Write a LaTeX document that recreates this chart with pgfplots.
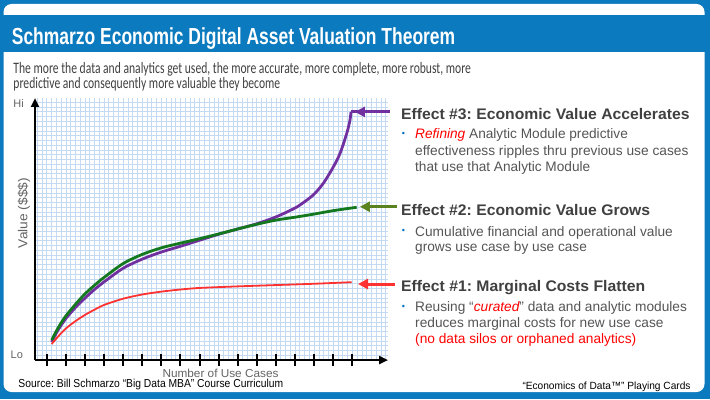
\documentclass[border=0pt]{standalone}
\usepackage{pgfplots}
\pgfplotsset{compat=1.18}
\usepackage{fontspec}
\setmainfont{Liberation Sans}
\newfontfamily\calib{Carlito}
\usetikzlibrary{arrows.meta}
\definecolor{frameblue}{RGB}{12,122,190}
\definecolor{gridblue}{RGB}{196,218,242}
\definecolor{headgray}{RGB}{64,64,64}
\definecolor{bodygray}{RGB}{85,85,85}
\definecolor{labgray}{RGB}{100,100,100}
\definecolor{cpurple}{RGB}{112,48,160}
\definecolor{cgreen}{RGB}{20,120,30}
\definecolor{cred}{RGB}{255,50,50}
\definecolor{aolive}{RGB}{90,130,30}
\definecolor{bulblue}{RGB}{0,112,192}
\newcommand{\fit}[2]{\resizebox{#1bp}{\height}{#2}}
\frenchspacing
\begin{document}
\begin{tikzpicture}[x=1bp,y=1bp]
\path[use as bounding box] (0,0) rectangle (710,399);
\fill[frameblue] (0,0) rectangle (710,399);
\fill[white, rounded corners=8bp] (3.5,7) rectangle (704.5,395);
\fill[frameblue] (0,347) rectangle (710,384);
% title
\node[anchor=base west, inner sep=0, text=white, font=\fontsize{23.3}{26}\selectfont\bfseries] at (11.7,354.7) {\fit{443.3}{Schmarzo Economic Digital Asset Valuation Theorem}};
\node[anchor=base west, inner sep=0, text=headgray, font=\fontsize{16}{19}\calib] at (13.3,325.5) {\fit{457.4}{The more the data and analytics get used, the more accurate, more complete, more robust, more}};
\node[anchor=base west, inner sep=0, text=headgray, font=\fontsize{16}{19}\calib] at (13.3,310.7) {\fit{266.7}{predictive and consequently more valuable they become}};

\begin{axis}[at={(35bp,39bp)}, anchor=south west, scale only axis, width=353bp, height=262bp,
 xmin=-0.613, xmax=17.87, ymin=0, ymax=100,
 axis lines=left,
 axis line style={line width=2.4bp, black, -{Triangle[length=9bp,width=8bp]}},
 xtick={-0.5,-0.25,...,17.8}, ytick={0,1.8225,...,99.5},
 grid=major, major grid style={gridblue, line width=0.6bp},
 major tick length=0pt, xticklabels={}, yticklabels={},
 extra x ticks={0,1,...,16}, extra x tick labels={},
 extra x tick style={grid=none, major tick length=12bp, tick align=center, tick style={black, line width=2bp}},
 clip=false]
\addplot[cpurple, line width=2.8bp, smooth] coordinates {
(0.26,6.9) (0.6,11.5) (1.0,15.8) (1.5,20.0) (2.0,23.6) (2.5,26.9) (3.0,29.8) (4.0,35.0) (5.0,38.5) (6.0,41.2) (7.0,43.4) (8.0,45.7) (9.0,48.0) (10.0,50.0) (11.0,52.0) (12.0,54.6) (13.0,58.0) (13.5,60.4) (14.0,63.3) (14.5,67.6) (15.0,73.6) (15.36,78.9) (15.71,86.5) (15.88,91.6) (15.93,94.7)};
\addplot[cgreen, line width=2.8bp, smooth] coordinates {
(0.26,7.6) (0.6,12.3) (1.0,16.8) (1.5,21.2) (2.0,25.2) (2.5,28.5) (3.0,31.5) (4.0,36.8) (5.0,40.3) (6.0,42.8) (7.0,44.6) (8.0,46.3) (9.0,48.1) (10.0,50.0) (11.0,51.8) (12.0,53.4) (13.0,54.5) (14.0,55.7) (15.0,57.0) (16.23,58.3)};
\addplot[cred, line width=1.8bp, smooth] coordinates {
(0.26,6.1) (0.6,9.0) (1.0,12.0) (1.5,14.8) (2.0,17.2) (2.5,19.2) (3.0,21.0) (4.0,23.4) (5.0,25.0) (6.0,26.1) (7.0,26.9) (8.0,27.5) (10.0,28.1) (12.0,28.6) (14.0,29.1) (15.97,29.7)};
\draw[cpurple, line width=2.8bp] (axis cs:15.93,94.7) -- (axis cs:16.3,94.7);
\draw[cpurple, line width=3bp, -{Triangle[length=10bp,width=10bp]}] (axis cs:17.97,94.7) -- (axis cs:16.14,94.7);
\draw[aolive, line width=3bp, -{Triangle[length=10bp,width=10bp]}] (axis cs:18.34,58.5) -- (axis cs:16.40,58.5);
\draw[cred, line width=3bp, -{Triangle[length=10bp,width=10bp]}] (axis cs:18.23,29.0) -- (axis cs:16.30,29.0);
\end{axis}

\node[anchor=base west, inner sep=0, text=labgray, font=\fontsize{11}{13}\selectfont] at (13.3,291.7) {Hi};
\node[anchor=base west, inner sep=0, text=labgray, font=\fontsize{11}{13}\selectfont] at (10.5,40.7) {Lo};
\node[anchor=base, rotate=90, inner sep=0, text=labgray, font=\fontsize{13}{15}\selectfont] at (27.3,186) {\fit{70}{Value (\$\$\$)}};
\node[anchor=base west, inner sep=0, text=labgray, font=\fontsize{11.6}{14}\selectfont] at (162.3,21.8) {\fit{116}{Number of Use Cases}};
\node[anchor=base west, inner sep=0, text=black, font=\fontsize{11.6}{14}\selectfont] at (18.3,11.3) {\fit{264.7}{Source: Bill Schmarzo “Big Data MBA” Course Curriculum}};
\node[anchor=base east, inner sep=0, text=black, font=\fontsize{10.5}{13}\selectfont] at (690.7,10) {\fit{168}{“Economics of Data™” Playing Cards}};

% right side texts
\node[anchor=base west, inner sep=0, text=headgray, font=\fontsize{15.4}{18}\selectfont\bfseries] at (401,279.7) {\fit{288.3}{Effect \#3: Economic Value Accelerates}};
\node[inner sep=0, text=bulblue, font=\fontsize{9}{10}\selectfont] at (403.5,264.5) {•};
\node[anchor=base west, inner sep=0, text=bodygray, font=\fontsize{13.8}{16}\selectfont] at (415,260.7) {\fit{212.7}{\textcolor{red}{\itshape Refining} Analytic Module predictive}};
\node[anchor=base west, inner sep=0, text=bodygray, font=\fontsize{13.8}{16}\selectfont] at (415,244) {\fit{273.3}{effectiveness ripples thru previous use cases}};
\node[anchor=base west, inner sep=0, text=bodygray, font=\fontsize{13.8}{16}\selectfont] at (415,228) {\fit{175}{that use that Analytic Module}};

\node[anchor=base west, inner sep=0, text=headgray, font=\fontsize{15.4}{18}\selectfont\bfseries] at (401,184) {\fit{249}{Effect \#2: Economic Value Grows}};
\node[inner sep=0, text=bulblue, font=\fontsize{9}{10}\selectfont] at (403.5,167.3) {•};
\node[anchor=base west, inner sep=0, text=bodygray, font=\fontsize{13.8}{16}\selectfont] at (415,162.5) {\fit{257.7}{Cumulative financial and operational value}};
\node[anchor=base west, inner sep=0, text=bodygray, font=\fontsize{13.8}{16}\selectfont] at (415,147.3) {\fit{171.7}{grows use case by use case}};

\node[anchor=base west, inner sep=0, text=headgray, font=\fontsize{15.4}{18}\selectfont\bfseries] at (401,107.3) {\fit{244}{Effect \#1: Marginal Costs Flatten}};
\node[inner sep=0, text=bulblue, font=\fontsize{9}{10}\selectfont] at (403.5,92) {•};
\node[anchor=base west, inner sep=0, text=bodygray, font=\fontsize{13.8}{16}\selectfont] at (415,87.3) {\fit{271.7}{Reusing “\textcolor{red}{\itshape curated}” data and analytic modules}};
\node[anchor=base west, inner sep=0, text=bodygray, font=\fontsize{13.8}{16}\selectfont] at (415,71.5) {\fit{248.3}{reduces marginal costs for new use case}};
\node[anchor=base west, inner sep=0, text=red, font=\fontsize{13.8}{16}\selectfont] at (415,55.7) {\fit{221}{(no data silos or orphaned analytics)}};
\end{tikzpicture}
\end{document}
